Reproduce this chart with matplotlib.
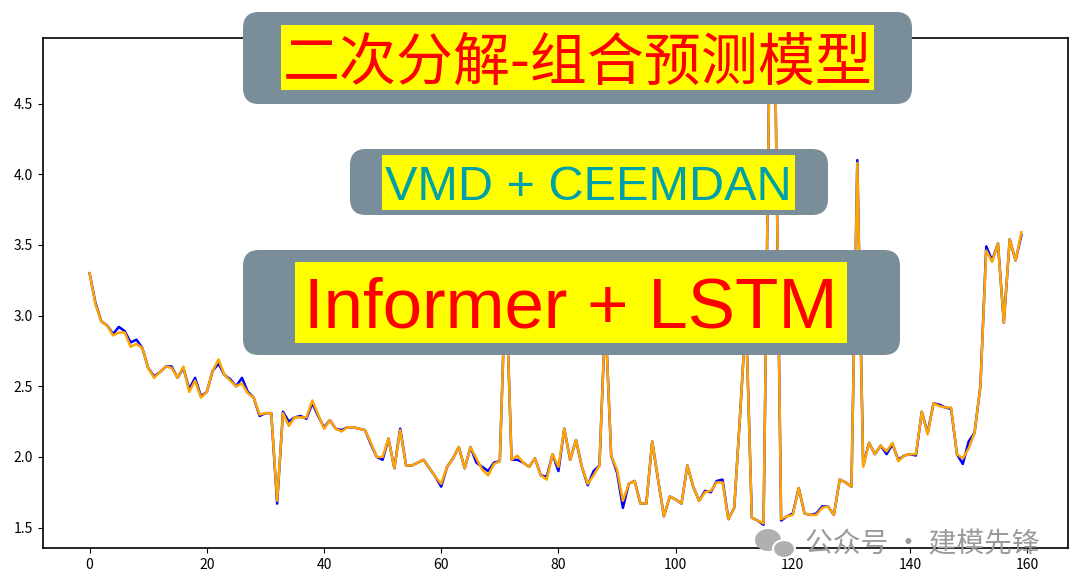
import matplotlib
matplotlib.use('Agg')
import matplotlib.pyplot as plt
from matplotlib.patches import FancyBboxPatch, Rectangle, Ellipse
from matplotlib.transforms import IdentityTransform

plt.rcParams['font.family'] = ['Noto Sans CJK SC', 'DejaVu Sans']

# 真实值 (blue) 与 预测值 (orange)
y_true = [3.30, 3.09, 2.96, 2.93, 2.87, 2.92, 2.89, 2.81, 2.83, 2.77,
          2.63, 2.57, 2.60, 2.64, 2.64, 2.56, 2.63, 2.48, 2.56, 2.43,
          2.46, 2.61, 2.66, 2.58, 2.55, 2.50, 2.56, 2.46, 2.42, 2.29,
          2.31, 2.31, 1.67, 2.32, 2.25, 2.28, 2.29, 2.27, 2.38, 2.29,
          2.21, 2.26, 2.20, 2.19, 2.21, 2.21, 2.20, 2.19, 2.09, 2.00,
          1.98, 2.13, 1.92, 2.20, 1.94, 1.94, 1.96, 1.98, 1.92, 1.86,
          1.79, 1.93, 1.99, 2.07, 1.92, 2.07, 1.96, 1.93, 1.90, 1.96,
          1.97, 3.28, 1.98, 1.98, 1.96, 1.93, 1.99, 1.87, 1.86, 2.02,
          1.90, 2.20, 1.98, 2.12, 1.93, 1.80, 1.90, 1.94, 3.00, 2.01,
          1.89, 1.64, 1.81, 1.83, 1.67, 1.67, 2.11, 1.84, 1.58, 1.72,
          1.70, 1.67, 1.94, 1.79, 1.69, 1.76, 1.75, 1.83, 1.84, 1.56,
          1.64, 2.30, 3.00, 1.57, 1.55, 1.52, 4.80, 4.72, 1.55, 1.58,
          1.60, 1.78, 1.60, 1.59, 1.60, 1.65, 1.65, 1.59, 1.84, 1.82,
          1.79, 4.10, 1.94, 2.10, 2.02, 2.08, 2.02, 2.09, 1.98, 2.01,
          2.02, 2.01, 2.32, 2.17, 2.38, 2.37, 2.35, 2.34, 2.02, 1.95,
          2.11, 2.17, 2.50, 3.49, 3.39, 3.51, 2.95, 3.54, 3.39, 3.57]

y_pred = [3.30, 3.08, 2.96, 2.93, 2.86, 2.88, 2.88, 2.78, 2.80, 2.77,
          2.63, 2.56, 2.60, 2.64, 2.63, 2.56, 2.64, 2.46, 2.54, 2.42,
          2.46, 2.61, 2.69, 2.58, 2.54, 2.50, 2.52, 2.45, 2.42, 2.30,
          2.31, 2.31, 1.69, 2.31, 2.22, 2.28, 2.28, 2.28, 2.40, 2.30,
          2.20, 2.26, 2.20, 2.18, 2.21, 2.21, 2.20, 2.19, 2.10, 2.00,
          2.00, 2.13, 1.92, 2.19, 1.94, 1.94, 1.96, 1.98, 1.92, 1.86,
          1.81, 1.93, 1.99, 2.07, 1.92, 2.07, 1.99, 1.91, 1.87, 1.95,
          1.97, 3.28, 1.98, 2.01, 1.96, 1.93, 1.99, 1.87, 1.84, 2.02,
          1.93, 2.20, 1.98, 2.12, 1.93, 1.81, 1.87, 1.94, 3.00, 2.01,
          1.91, 1.69, 1.81, 1.83, 1.67, 1.67, 2.11, 1.84, 1.58, 1.72,
          1.70, 1.67, 1.94, 1.79, 1.69, 1.75, 1.76, 1.82, 1.82, 1.56,
          1.64, 2.30, 3.00, 1.57, 1.55, 1.53, 4.78, 4.74, 1.56, 1.58,
          1.59, 1.78, 1.60, 1.59, 1.59, 1.64, 1.65, 1.59, 1.84, 1.82,
          1.79, 4.08, 1.93, 2.10, 2.02, 2.08, 2.04, 2.10, 1.97, 2.01,
          2.02, 2.02, 2.32, 2.16, 2.38, 2.36, 2.35, 2.35, 2.02, 1.99,
          2.06, 2.17, 2.50, 3.46, 3.38, 3.51, 2.95, 3.54, 3.39, 3.59]

title = '二次分解-组合预测模型'
banner_1 = '二次分解-组合预测模型'
banner_2 = 'VMD + CEEMDAN'
banner_3 = 'Informer + LSTM'
watermark = '公众号 · 建模先锋'

W, H = 1080, 587
fig = plt.figure(figsize=(W / 100, H / 100), dpi=100)
ax = fig.add_axes([43 / W, 1 - 548 / H, (1068 - 43) / W, (548 - 38) / H])

ax.plot(range(len(y_true)), y_true, color='blue', linewidth=1.8)
ax.plot(range(len(y_pred)), y_pred, color='orange', linewidth=1.8)
ax.set_title(title, fontsize=10)
ax.tick_params(labelsize=10)
for s in ax.spines.values():
    s.set_linewidth(1.2)


# 覆盖在图上的标题框 (像素坐标, 左上原点)
def banner(x0, y0, x1, y1, ix0, iy0, ix1, iy1, text, color, size, family):
    grey = FancyBboxPatch((x0, H - y1), x1 - x0, y1 - y0,
                          boxstyle='round,pad=0,rounding_size=16',
                          facecolor='#798e98', edgecolor='none',
                          transform=IdentityTransform())
    fig.add_artist(grey)
    yel = Rectangle((ix0, H - iy1), ix1 - ix0, iy1 - iy0, facecolor='yellow',
                    edgecolor='none', transform=IdentityTransform())
    fig.add_artist(yel)
    fig.text((ix0 + ix1) / 2 / W, 1 - (iy0 + iy1) / 2 / H, text, color=color,
             fontsize=size, family=family, ha='center', va='center_baseline')


banner(243, 12, 912, 104, 281, 25, 874, 90, banner_1, 'red', 41,
       ['Noto Sans CJK SC'])
banner(350, 149, 828, 215, 382, 155, 795, 210, banner_2, '#00a0a8', 35,
       ['Liberation Sans'])
banner(243, 250, 900, 355, 295, 262, 847, 343, banner_3, 'red', 51,
       ['Liberation Sans'])

# 水印
fig.add_artist(Ellipse((768, H - 540), 26, 22, facecolor='#b0b0b0', edgecolor='none',
                       transform=IdentityTransform()))
fig.add_artist(Ellipse((784, H - 549), 22, 18, facecolor='#b0b0b0', edgecolor='white',
                       linewidth=1.5, transform=IdentityTransform()))
fig.text(922 / W, 1 - 544 / H, watermark, color='#9a9a9a', fontsize=20,
         ha='center', va='center')

plt.savefig('out.png', dpi=100)
